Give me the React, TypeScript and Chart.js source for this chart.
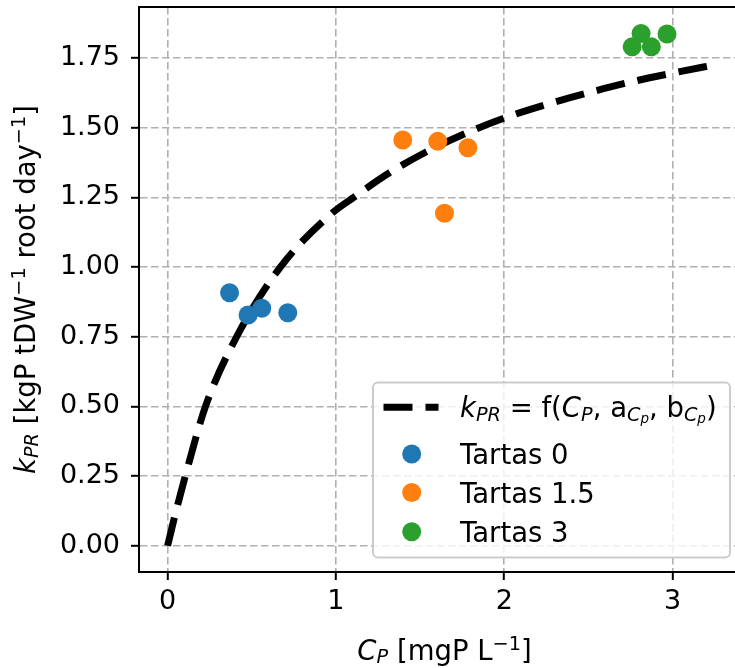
import React, { useEffect, useRef } from 'react';
import { Chart, registerables } from 'chart.js';

Chart.register(...registerables);

// ---------------- data ----------------
const tartas0X = [0.368, 0.478, 0.559, 0.714];
const tartas0Y = [0.908, 0.828, 0.852, 0.836];

const tartas15X = [1.397, 1.605, 1.784, 1.645];
const tartas15Y = [1.456, 1.451, 1.428, 1.193];

const tartas3X = [2.760, 2.813, 2.874, 2.967];
const tartas3Y = [1.790, 1.838, 1.790, 1.836];

// fitted curve k_PR = f(C_P)
const curveX = [0, 0.04, 0.105, 0.225, 0.41, 0.67, 0.97, 1.11, 1.32, 1.53, 1.78, 2.02, 2.26, 2.51, 2.76, 3.01, 3.27];
const curveY = [0, 0.10, 0.25, 0.50, 0.75, 1.00, 1.19, 1.252, 1.339, 1.411, 1.482, 1.539, 1.585, 1.627, 1.665, 1.697, 1.728];

const xTicks = [0, 1, 2, 3];
const xTickLabels = ['0', '1', '2', '3'];
const yTicks = [0, 0.25, 0.5, 0.75, 1.0, 1.25, 1.5, 1.75];
const yTickLabels = ['0.00', '0.25', '0.50', '0.75', '1.00', '1.25', '1.50', '1.75'];

const seriesNames = ['Tartas 0', 'Tartas 1.5', 'Tartas 3'];
const seriesColors = ['#1f77b4', '#ff7f0e', '#2ca02c'];

const X_MIN = -0.17;
const X_MAX = 3.371;
const Y_MIN = -0.094;
const Y_MAX = 1.933;

// ---------------- rich text helpers (mathtext-like) ----------------
type Seg = { t: string; it?: boolean; s?: number; dy?: number };
const FAMILY = '"DejaVu Sans", "Liberation Sans", sans-serif';
const FS = 27.5;
const TICK_FS = 27;

function segFont(sg: Seg, size: number) {
  return `${sg.it ? 'italic ' : ''}${size * (sg.s ?? 1)}px ${FAMILY}`;
}
function richWidth(ctx: CanvasRenderingContext2D, segs: Seg[], size: number) {
  let w = 0;
  for (const sg of segs) {
    ctx.font = segFont(sg, size);
    w += ctx.measureText(sg.t).width;
  }
  return w;
}
function drawRich(ctx: CanvasRenderingContext2D, segs: Seg[], x: number, y: number, size: number) {
  let cx = x;
  ctx.textAlign = 'left';
  ctx.textBaseline = 'alphabetic';
  for (const sg of segs) {
    ctx.font = segFont(sg, size);
    ctx.fillText(sg.t, cx, y + (sg.dy ?? 0) * size);
    cx += ctx.measureText(sg.t).width;
  }
}

const MINUS = '\u2212';
const xTitleSegs: Seg[] = [
  { t: 'C', it: true },
  { t: 'P', it: true, s: 0.7, dy: 0.12 },
  { t: ' [mgP L' },
  { t: MINUS + '1', s: 0.7, dy: -0.38 },
  { t: ']' },
];
const yTitleSegs: Seg[] = [
  { t: 'k', it: true },
  { t: 'PR', it: true, s: 0.7, dy: 0.12 },
  { t: ' [kgP tDW' },
  { t: MINUS + '1', s: 0.7, dy: -0.38 },
  { t: ' root day' },
  { t: MINUS + '1', s: 0.7, dy: -0.38 },
  { t: ']' },
];
const curveLabelSegs: Seg[] = [
  { t: 'k', it: true },
  { t: 'PR', it: true, s: 0.7, dy: 0.12 },
  { t: ' = f(' },
  { t: 'C', it: true },
  { t: 'P', it: true, s: 0.7, dy: 0.12 },
  { t: ', a' },
  { t: 'C', it: true, s: 0.7, dy: 0.15 },
  { t: 'p', it: true, s: 0.49, dy: 0.22 },
  { t: ', b' },
  { t: 'C', it: true, s: 0.7, dy: 0.15 },
  { t: 'p', it: true, s: 0.49, dy: 0.22 },
  { t: ')' },
];

const CURVE_DASH = [29, 13];
const CURVE_WIDTH = 7;

const decorPlugin = {
  id: 'decor',
  afterDraw(chart: any) {
    const ctx: CanvasRenderingContext2D = chart.ctx;
    const area = chart.chartArea;
    ctx.save();
    // top spine
    ctx.strokeStyle = '#000';
    ctx.lineWidth = 2;
    ctx.beginPath();
    ctx.moveTo(area.left - 1, area.top);
    ctx.lineTo(area.right, area.top);
    ctx.stroke();

    ctx.fillStyle = '#000';
    // x title
    const xw = richWidth(ctx, xTitleSegs, FS);
    const xc = (area.left + 750) / 2;
    drawRich(ctx, xTitleSegs, xc - xw / 2, 660, FS);

    // y title (rotated)
    const yw = richWidth(ctx, yTitleSegs, FS);
    ctx.save();
    ctx.translate(35, (area.top + area.bottom) / 2);
    ctx.rotate(-Math.PI / 2);
    drawRich(ctx, yTitleSegs, -yw / 2, 0, FS);
    ctx.restore();

    // legend box
    const bx = 373, by = 382.5, bw = 357, bh = 175, r = 5;
    ctx.beginPath();
    ctx.moveTo(bx + r, by);
    ctx.lineTo(bx + bw - r, by);
    ctx.arcTo(bx + bw, by, bx + bw, by + r, r);
    ctx.lineTo(bx + bw, by + bh - r);
    ctx.arcTo(bx + bw, by + bh, bx + bw - r, by + bh, r);
    ctx.lineTo(bx + r, by + bh);
    ctx.arcTo(bx, by + bh, bx, by + bh - r, r);
    ctx.lineTo(bx, by + r);
    ctx.arcTo(bx, by, bx + r, by, r);
    ctx.closePath();
    ctx.fillStyle = 'rgba(255,255,255,0.8)';
    ctx.fill();
    ctx.strokeStyle = '#cccccc';
    ctx.lineWidth = 2;
    ctx.stroke();

    // legend: curve handle
    const rows = [407.3, 454, 492.5, 531.7];
    ctx.strokeStyle = '#000';
    ctx.lineWidth = CURVE_WIDTH;
    ctx.lineCap = 'butt';
    ctx.setLineDash(CURVE_DASH);
    ctx.beginPath();
    ctx.moveTo(383.5, rows[0]);
    ctx.lineTo(438.5, rows[0]);
    ctx.stroke();
    ctx.setLineDash([]);
    ctx.fillStyle = '#000';
    drawRich(ctx, curveLabelSegs, 460, rows[0] + 10, FS);

    // legend: series markers
    for (let i = 0; i < seriesNames.length; i++) {
      const y = rows[i + 1];
      ctx.fillStyle = seriesColors[i];
      ctx.beginPath();
      ctx.arc(411.7, y, 9.5, 0, Math.PI * 2);
      ctx.fill();
      ctx.fillStyle = '#000';
      ctx.font = `${FS}px ${FAMILY}`;
      ctx.textAlign = 'left';
      ctx.textBaseline = 'alphabetic';
      ctx.fillText(seriesNames[i], 460, y + 10);
    }
    ctx.restore();
  },
};

export default function App() {
  const ref = useRef<HTMLCanvasElement | null>(null);

  useEffect(() => {
    if (!ref.current) return;
    const pts = (xs: number[], ys: number[]) => xs.map((x, i) => ({ x, y: ys[i] }));
    const gridColor = '#b0b0b0';
    const gridOpts = {
      color: gridColor,
      lineWidth: 1.6,
      drawTicks: true,
      tickLength: 8,
      tickWidth: 2,
      tickColor: '#000',
      tickBorderDash: [],
    } as any;
    const chart = new Chart(ref.current, {
      type: 'scatter',
      data: {
        datasets: [
          {
            label: 'curve',
            data: pts(curveX, curveY),
            showLine: true,
            borderColor: '#000',
            borderWidth: CURVE_WIDTH,
            borderDash: CURVE_DASH,
            borderCapStyle: 'butt',
            cubicInterpolationMode: 'monotone',
            pointRadius: 0,
            pointHoverRadius: 0,
            fill: false,
            order: 10,
          } as any,
          ...seriesNames.map((name, i) => ({
            label: name,
            data: pts([tartas0X, tartas15X, tartas3X][i], [tartas0Y, tartas15Y, tartas3Y][i]),
            backgroundColor: seriesColors[i],
            borderColor: seriesColors[i],
            borderWidth: 0,
            pointRadius: 9.5,
            pointHoverRadius: 9.5,
            pointBorderWidth: 0,
            order: 1,
          })),
        ],
      },
      options: {
        responsive: false,
        animation: false,
        events: [],
        layout: { padding: { top: 7, left: 0, right: 0, bottom: 0 }, autoPadding: false } as any,
        plugins: { legend: { display: false }, tooltip: { enabled: false } },
        scales: {
          x: {
            type: 'linear',
            min: X_MIN,
            max: X_MAX,
            afterBuildTicks: (s: any) => {
              s.ticks = xTicks.map((v) => ({ value: v }));
            },
            afterFit: (s: any) => {
              s.height = 96;
              s.paddingLeft = 0;
              s.paddingRight = 0;
              s.paddingTop = 0;
              s.paddingBottom = 0;
            },
            ticks: {
              color: '#000',
              font: { family: FAMILY, size: TICK_FS },
              padding: 6,
              maxRotation: 0,
              autoSkip: false,
              callback: (v: any) => xTickLabels[xTicks.indexOf(Number(v))] ?? '',
            },
            grid: gridOpts,
            border: { display: true, color: '#000', width: 2, dash: [7.5, 3.5] },
          },
          y: {
            type: 'linear',
            min: Y_MIN,
            max: Y_MAX,
            afterBuildTicks: (s: any) => {
              s.ticks = yTicks.map((v) => ({ value: v }));
            },
            afterFit: (s: any) => {
              s.width = 139;
              s.paddingLeft = 0;
              s.paddingRight = 0;
              s.paddingTop = 0;
              s.paddingBottom = 0;
            },
            ticks: {
              color: '#000',
              font: { family: FAMILY, size: TICK_FS },
              padding: 11,
              autoSkip: false,
              callback: (v: any) => yTickLabels[yTicks.indexOf(Number(v))] ?? '',
            },
            grid: gridOpts,
            border: { display: true, color: '#000', width: 2, dash: [7.5, 3.5] },
          },
        },
      } as any,
      plugins: [decorPlugin],
    });
    return () => chart.destroy();
  }, []);

  return (
    <div style={{ position: 'fixed', left: 0, top: 0, width: 735, height: 668, background: '#fff' }}>
      <canvas ref={ref} width={735} height={668} style={{ display: 'block' }} />
    </div>
  );
}
